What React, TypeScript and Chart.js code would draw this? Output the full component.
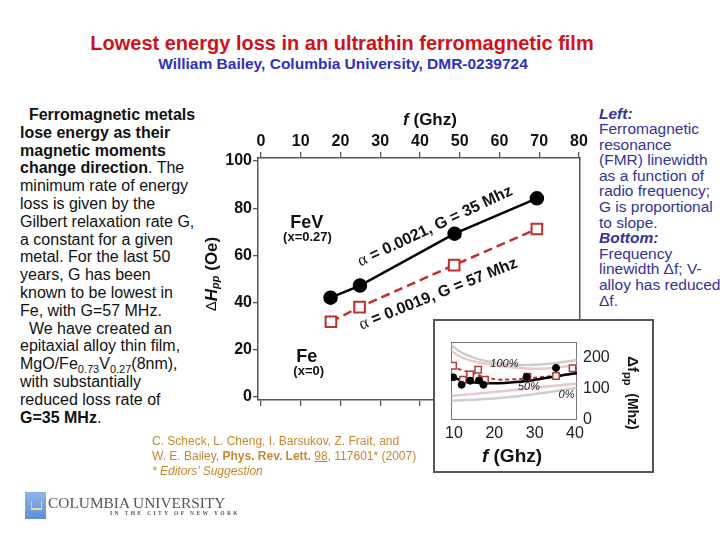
import React, { useEffect, useRef } from 'react';
import { Chart, registerables } from 'chart.js';
Chart.register(...registerables);

const FONT = '"Liberation Sans", Arial, Helvetica, sans-serif';
const SERIF = '"Liberation Serif", "Times New Roman", serif';

// ---- Main chart data (FMR linewidth vs frequency) ----
const feVFreq = [17.5, 24.9, 48.7, 69.4];
const feVWidth = [42.1, 47.2, 69.2, 84.2];
const feFreq = [17.6, 24.8, 48.6, 69.4];
const feWidth = [31.9, 38.1, 55.9, 71.2];
const mainXTicks = [0, 10, 20, 30, 40, 50, 60, 70, 80];
const mainYTicks = [0, 20, 40, 60, 80, 100];

// ---- Inset data (frequency linewidth) ----
const insetFeVFreq = [9.8, 11.9, 14.0, 16.2, 17.3, 28.0, 35.3];
const insetFeVWidth = [137, 113, 126, 127, 113, 138, 167];
const insetFeFreq = [9.8, 12.2, 14.0, 16.0, 17.7, 28.2, 35.3, 39.4];
const insetFeWidth = [174, 129, 146, 161, 129, 139, 141, 166];
const fitFreq = [9.3, 12, 15, 18, 21, 24, 28, 32, 36, 40.5];
const feVFit = [138, 127, 120, 118, 118, 120, 125, 133, 141, 151];
const feFit = [172, 160, 148, 136, 130, 130, 133, 138, 143, 149];
const boundFreq = [9.3, 12, 16, 20, 25, 30, 35, 40.5];
const upperGray = [240, 215, 195, 184, 177, 177, 182, 192];
const upperPink = [222, 200, 185, 176, 168, 164, 168, 176];
const lowerPink = [78, 80, 85, 90, 96, 103, 110, 117];
const lowerGray = [62, 63, 66, 69, 75, 83, 92, 103];
const insetXTicks = [10, 20, 30, 40];
const insetYTicks = [0, 100, 200];

const pts = (xs: number[], ys: number[]) => xs.map((x, i) => ({ x, y: ys[i] }));

type Run = { t: string; f: string; dy?: number };
function drawRuns(ctx: CanvasRenderingContext2D, runs: Run[], cx: number, cy: number, angle: number, color = '#111') {
  ctx.save();
  ctx.translate(cx, cy);
  ctx.rotate(angle);
  ctx.textBaseline = 'middle';
  ctx.textAlign = 'left';
  ctx.fillStyle = color;
  let total = 0;
  for (const r of runs) { ctx.font = r.f; total += ctx.measureText(r.t).width; }
  let x = -total / 2;
  for (const r of runs) {
    ctx.font = r.f;
    ctx.fillText(r.t, x, r.dy || 0);
    x += ctx.measureText(r.t).width;
  }
  ctx.restore();
}

const mainNotes = [
  { runs: [{ t: 'FeV', f: `bold 18px ${FONT}` }], x: 11.5, y: 73.9, angle: 0 },
  { runs: [{ t: '(x=0.27)', f: `bold 13px ${FONT}` }], x: 11.7, y: 67.5, angle: 0 },
  { runs: [{ t: 'Fe', f: `bold 18px ${FONT}` }], x: 11.5, y: 16.9, angle: 0 },
  { runs: [{ t: '(x=0)', f: `bold 13px ${FONT}` }], x: 12, y: 10.7, angle: 0 },
  { runs: [{ t: 'α', f: `17px ${SERIF}` }, { t: ' = 0.0021, G = 35 Mhz', f: `bold 16px ${FONT}` }], x: 43.8, y: 72.3, angle: -25.3 },
  { runs: [{ t: 'α', f: `17px ${SERIF}` }, { t: ' = 0.0019, G = 57 Mhz', f: `bold 16px ${FONT}` }], x: 44.6, y: 43.6, angle: -21.8 },
];

const insetNotes = [
  { t: '100%', x: 22.5, y: 181 },
  { t: '50%', x: 28.6, y: 106 },
  { t: '0%', x: 37.9, y: 80 },
];

const mainTextPlugin = {
  id: 'mainText',
  afterDraw(chart: any) {
    const { ctx, chartArea: ca, scales } = chart;
    const xs = scales.x, ys = scales.y;
    drawRuns(ctx, [
      { t: 'Δ', f: `15px ${FONT}` },
      { t: 'H', f: `italic bold 17px ${FONT}` },
      { t: 'pp', f: `italic bold 11px ${FONT}`, dy: 4 },
      { t: ' (Oe)', f: `bold 17px ${FONT}` },
    ], ca.left - 46, (ca.top + ca.bottom) / 2 - 5, -Math.PI / 2);
    drawRuns(ctx, [
      { t: 'f', f: `italic bold 17px ${FONT}` },
      { t: ' (Ghz)', f: `bold 17px ${FONT}` },
    ], (ca.left + ca.right) / 2 + 11, ca.top - 38, 0);
    for (const n of mainNotes) {
      drawRuns(ctx, n.runs, xs.getPixelForValue(n.x), ys.getPixelForValue(n.y), (n.angle * Math.PI) / 180);
    }
  },
};

const insetPlugin = {
  id: 'insetText',
  beforeDatasetsDraw(chart: any) {
    const { ctx, chartArea: ca } = chart;
    ctx.save();
    ctx.strokeStyle = '#777';
    ctx.lineWidth = 1;
    ctx.strokeRect(ca.left + 0.5, ca.top + 0.5, ca.right - ca.left - 1, ca.bottom - ca.top - 1);
    ctx.restore();
  },
  afterDraw(chart: any) {
    const { ctx, chartArea: ca, scales } = chart;
    drawRuns(ctx, [
      { t: 'f', f: `italic bold 19px ${FONT}` },
      { t: ' (Ghz)', f: `bold 19px ${FONT}` },
    ], ca.left + 61, ca.bottom + 37, 0);
    drawRuns(ctx, [
      { t: 'Δf', f: `bold 15px ${FONT}` },
      { t: 'pp', f: `bold 11px ${FONT}`, dy: 5 },
      { t: '  (Mhz)', f: `bold 14px ${FONT}` },
    ], ca.right + 55, (ca.top + ca.bottom) / 2 + 12, Math.PI / 2);
    for (const n of insetNotes) {
      drawRuns(ctx, [{ t: n.t, f: `italic 11px ${FONT}` }], scales.x.getPixelForValue(n.x), scales.y.getPixelForValue(n.y), 0, '#222');
    }
  },
};

const axisColor = '#555';

export default function App() {
  const mainRef = useRef<HTMLCanvasElement>(null);
  const insetRef = useRef<HTMLCanvasElement>(null);

  useEffect(() => {
    const tickFont = { family: FONT, size: 16, weight: 'bold' as const };
    const main = new Chart(mainRef.current!, {
      type: 'scatter',
      data: {
        datasets: [
          {
            data: pts(feVFreq, feVWidth), showLine: true, borderColor: '#000', borderWidth: 2.5,
            pointStyle: 'circle', pointRadius: 6, pointBackgroundColor: '#000', pointBorderColor: '#000',
          },
          {
            data: pts(feFreq, feWidth), showLine: true, borderColor: '#c0302a', borderWidth: 2.5,
            borderDash: [9, 5], pointStyle: 'rect', pointRadius: 7.5, pointBackgroundColor: '#fff',
            pointBorderColor: '#c0302a', pointBorderWidth: 2,
          },
        ],
      },
      options: {
        responsive: false, animation: false, devicePixelRatio: 1,
        layout: { padding: 0 },
        plugins: { legend: { display: false }, tooltip: { enabled: false } },
        scales: {
          x: {
            type: 'linear', position: 'top', min: -0.75, max: 80.25,
            afterBuildTicks: (s: any) => { s.ticks = mainXTicks.map((v) => ({ value: v })); },
            afterFit: (s: any) => { s.height = 158; },
            ticks: { font: tickFont, color: '#111', padding: 1, autoSkip: false, maxRotation: 0 },
            grid: { drawOnChartArea: false, drawTicks: true, tickLength: 6, color: axisColor, lineWidth: 1.3 },
            border: { display: true, color: axisColor, width: 1.5 },
          },
          xb: {
            type: 'linear', position: 'bottom', min: -0.75, max: 80.25,
            afterBuildTicks: (s: any) => { s.ticks = mainXTicks.map((v) => ({ value: v })); },
            afterFit: (s: any) => { s.height = 140; },
            ticks: { display: false },
            grid: { drawOnChartArea: false, drawTicks: true, tickLength: 6, color: axisColor, lineWidth: 1.3 },
            border: { display: true, color: axisColor, width: 1.5 },
          },
          y: {
            type: 'linear', position: 'left', min: -1.27, max: 101.27,
            afterBuildTicks: (s: any) => { s.ticks = mainYTicks.map((v) => ({ value: v })); },
            afterFit: (s: any) => { s.width = 258; },
            ticks: { font: tickFont, color: '#111', padding: 1 },
            grid: { drawOnChartArea: false, drawTicks: true, tickLength: 5, color: axisColor, lineWidth: 1.3 },
            border: { display: true, color: axisColor, width: 1.5 },
          },
          y2: {
            type: 'linear', position: 'right', min: 0, max: 1,
            afterFit: (s: any) => { s.width = 140; },
            ticks: { display: false },
            grid: { drawOnChartArea: false, drawTicks: false },
            border: { display: true, color: axisColor, width: 1.5 },
          },
        },
      } as any,
      plugins: [mainTextPlugin],
    });

    const insetTick = { family: FONT, size: 16 };
    const inset = new Chart(insetRef.current!, {
      type: 'scatter',
      data: {
        datasets: [
          {
            data: pts(insetFeVFreq, insetFeVWidth), showLine: false, pointStyle: 'circle', pointRadius: 3.5,
            pointBackgroundColor: '#000', pointBorderColor: '#000',
          },
          {
            data: pts(insetFeFreq, insetFeWidth), showLine: false, pointStyle: 'rect', pointRadius: 4.5,
            pointBackgroundColor: '#fff', pointBorderColor: '#b03a3a', pointBorderWidth: 1.5,
          },
          { data: pts(fitFreq, feVFit), showLine: true, borderColor: '#000', borderWidth: 2.5, pointRadius: 0, tension: 0.4 },
          { data: pts(fitFreq, feFit), showLine: true, borderColor: '#c03030', borderWidth: 2, borderDash: [4, 3], pointRadius: 0, tension: 0.4 },
          { data: pts(boundFreq, upperGray), showLine: true, borderColor: 'rgba(185,185,185,0.7)', borderWidth: 2.5, pointRadius: 0, tension: 0.4 },
          { data: pts(boundFreq, upperPink), showLine: true, borderColor: 'rgba(225,160,160,0.6)', borderWidth: 2.5, pointRadius: 0, tension: 0.4 },
          { data: pts(boundFreq, lowerPink), showLine: true, borderColor: 'rgba(225,160,160,0.6)', borderWidth: 2.5, pointRadius: 0, tension: 0.4 },
          { data: pts(boundFreq, lowerGray), showLine: true, borderColor: 'rgba(185,185,185,0.7)', borderWidth: 2.5, pointRadius: 0, tension: 0.4 },
        ],
      },
      options: {
        responsive: false, animation: false, devicePixelRatio: 1,
        layout: { padding: { left: 16, top: 21, right: 0, bottom: 0 } },
        plugins: { legend: { display: false }, tooltip: { enabled: false } },
        scales: {
          x: {
            type: 'linear', position: 'bottom', min: 9.26, max: 40.5,
            afterBuildTicks: (s: any) => { s.ticks = insetXTicks.map((v) => ({ value: v })); },
            afterFit: (s: any) => { s.height = 51; },
            ticks: { font: insetTick, color: '#222', padding: 3.5, autoSkip: false, maxRotation: 0 },
            grid: { display: false, drawTicks: false },
            border: { display: false },
          },
          y: {
            type: 'linear', position: 'right', min: 0, max: 250,
            afterBuildTicks: (s: any) => { s.ticks = insetYTicks.map((v) => ({ value: v })); },
            afterFit: (s: any) => { s.width = 75; },
            ticks: { font: insetTick, color: '#222', padding: 6 },
            grid: { display: false, drawTicks: false },
            border: { display: false },
          },
        },
      } as any,
      plugins: [insetPlugin],
    });

    return () => { main.destroy(); inset.destroy(); };
  }, []);

  const abs = (s: React.CSSProperties): React.CSSProperties => ({ position: 'absolute', ...s });

  return (
    <div style={{ position: 'fixed', left: 0, top: 0, width: 720, height: 540, background: '#fff', overflow: 'hidden', fontFamily: FONT }}>
      <div style={abs({ left: 0, top: 31, width: 684, textAlign: 'center', font: `bold 20px ${FONT}`, lineHeight: '24px', color: '#d3101a' })}>
        Lowest energy loss in an ultrathin ferromagnetic film
      </div>
      <div style={abs({ left: 0, top: 55, width: 686, textAlign: 'center', font: `bold 15.5px ${FONT}`, lineHeight: '18px', color: '#2f2fc4' })}>
        William Bailey, Columbia University, DMR-0239724
      </div>

      <div style={abs({ left: 20, top: 106, font: `16px ${FONT}`, lineHeight: '17.8px', color: '#111', whiteSpace: 'pre' })}>
        <b>{'  Ferromagnetic metals'}</b><br />
        <b>lose energy as their</b><br />
        <b>magnetic moments</b><br />
        <b>change direction</b>. The<br />
        minimum rate of energy<br />
        loss is given by the<br />
        Gilbert relaxation rate G,<br />
        a constant for a given<br />
        metal. For the last 50<br />
        years, G has been<br />
        known to be lowest in<br />
        Fe, with G=57 MHz.<br />
        {'  We have created an'}<br />
        epitaxial alloy thin film,<br />
        MgO/Fe<span style={{ fontSize: 11, position: 'relative', top: 4, lineHeight: 0 }}>0.73</span>V<span style={{ fontSize: 11, position: 'relative', top: 4, lineHeight: 0 }}>0.27</span>(8nm),<br />
        with substantially<br />
        reduced loss rate of<br />
        <b>G=35 MHz</b>.
      </div>

      <div style={abs({ left: 599, top: 105.5, font: `15.5px ${FONT}`, lineHeight: '15.6px', color: '#333399', whiteSpace: 'pre' })}>
        <b><i>Left:</i></b><br />
        Ferromagnetic<br />
        resonance<br />
        (FMR) linewidth<br />
        as a function of<br />
        radio frequency;<br />
        G is proportional<br />
        to slope.<br />
        <b><i>Bottom:</i></b><br />
        Frequency<br />
        linewidth Δf; V-<br />
        alloy has reduced<br />
        Δf.
      </div>

      <canvas ref={mainRef} width={720} height={540} style={{ position: 'absolute', left: 0, top: 0 }} />

      <div style={abs({ left: 433, top: 319, width: 221, height: 154, border: '2px solid #555', boxSizing: 'border-box', background: '#fff' })}>
        <canvas ref={insetRef} width={217} height={150} style={{ position: 'absolute', left: 0, top: 0 }} />
      </div>

      <div style={abs({ left: 152, top: 434, font: `12px ${FONT}`, lineHeight: '15px', color: '#c8862e', whiteSpace: 'pre' })}>
        C. Scheck, L. Cheng, I. Barsukov, Z. Frait, and<br />
        W. E. Bailey, <b>Phys. Rev. Lett.</b> <u>98</u>, 117601* (2007)<br />
        <i>* Editors’ Suggestion</i>
      </div>

      <div style={abs({ left: 25, top: 492, width: 21, height: 27, background: 'linear-gradient(#8fb4ea, #5f8fd8)' })}>
        <div style={abs({ left: 6, top: 9, width: 9, height: 7, borderBottom: '2px solid #e8d890', borderLeft: '1px solid #e8d890', borderRight: '1px solid #e8d890' })} />
      </div>
      <div style={abs({ left: 48, top: 494, font: `15.4px ${SERIF}`, lineHeight: '18px', color: '#555', whiteSpace: 'pre' })}>
        COLUMBIA UNIVERSITY
      </div>
      <div style={abs({ left: 110, top: 510, font: `bold 5.5px ${SERIF}`, lineHeight: '7px', letterSpacing: '2.4px', color: '#555', whiteSpace: 'pre' })}>
        IN THE CITY OF NEW YORK
      </div>
    </div>
  );
}
